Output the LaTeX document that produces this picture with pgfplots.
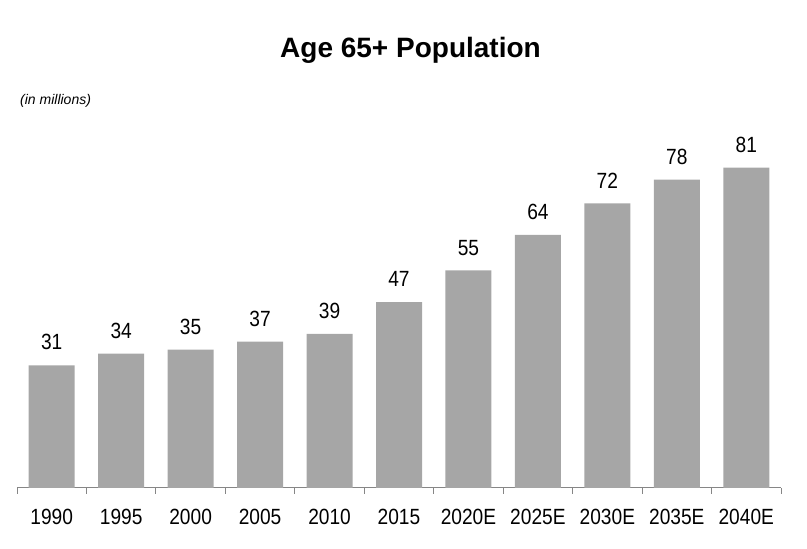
\documentclass[border=0pt]{standalone}
\usepackage{pgfplots}
\pgfplotsset{compat=1.18}
\usepackage{fontspec}
\setmainfont{Liberation Sans}
\newfontfamily\narrowfont[FakeStretch=0.87]{Liberation Sans}
\definecolor{barfill}{RGB}{166,166,166}
\definecolor{axisgray}{RGB}{134,134,134}
\begin{document}
\begin{tikzpicture}
\useasboundingbox (0,0) rectangle (807pt,549pt);
\begin{axis}[
    at={(17pt,61pt)}, anchor=south west,
    scale only axis,
    width=764pt, height=348pt,
    xmin=-0.5, xmax=10.5,
    ymin=0, ymax=88,
    ybar, bar width=46pt,
    axis x line*=bottom,
    axis y line=none,
    axis line style={axisgray, line width=1pt},
    xtick=data,
    xticklabels={1990,1995,2000,2005,2010,2015,2020E,2025E,2030E,2035E,2040E},
    major tick length=0pt,
    minor xtick={-0.5,0.5,...,10.5},
    minor tick length=6pt,
    xtick align=outside,
    minor tick style={axisgray, line width=1pt},
    xticklabel style={font=\narrowfont\fontsize{22}{26}\selectfont, anchor=north, inner sep=0pt, yshift=-21pt},
    nodes near coords,
    nodes near coords style={font=\narrowfont\fontsize{22}{26}\selectfont, anchor=south, inner sep=0pt, yshift=15pt, text=black},
    /pgf/number format/assume math mode=true,
    clip=false,
]
\addplot[fill=barfill, draw=none] coordinates {
    (0,31) (1,34) (2,35) (3,37) (4,39) (5,47)
    (6,55) (7,64) (8,72) (9,78) (10,81)
};
\end{axis}
\node[anchor=base, inner sep=0pt, font=\fontsize{28}{32}\selectfont\bfseries] at (410.5pt,491pt) {Age 65+ Population};
\node[anchor=base west, inner sep=0pt, font=\fontsize{14}{17}\selectfont\itshape] at (20pt,444pt) {(in millions)};
\end{tikzpicture}
\end{document}
